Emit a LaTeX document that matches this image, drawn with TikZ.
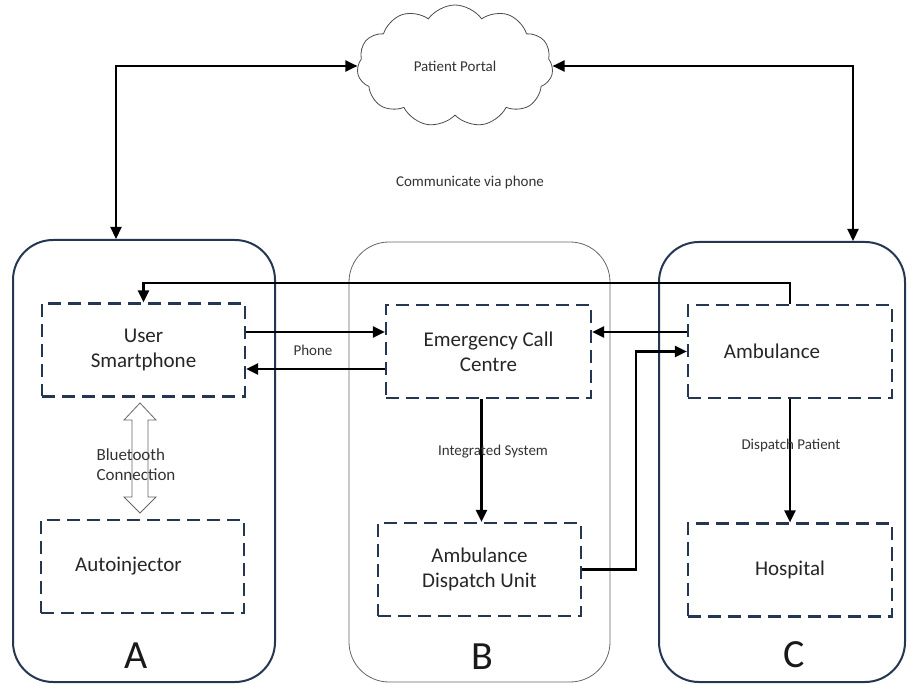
\documentclass[tikz,border=0pt]{standalone}
\usepackage{fontspec}
\setmainfont{Carlito}
\usepackage{tikz}
\usetikzlibrary{arrows.meta, shapes.symbols}
\definecolor{navy}{HTML}{243652}

\tikzset{
  panel/.style={draw=navy, line width=2pt, rounded corners=40pt, inner sep=0pt},
  boxfont/.style={font=\fontsize{21}{25}\selectfont, text=black!85},
  unitbox/.style={draw=navy, line width=2.2pt, dash pattern=on 13pt off 7pt,
    minimum width=203pt, minimum height=93pt, align=center, boxfont},
  link/.style={line width=2.2pt, ->},
  lbl/.style={font=\fontsize{15}{18}\selectfont, text=black!80},
  letter/.style={font=\fontsize{40}{40}\selectfont, text=black!90}
}

\begin{document}
\begin{tikzpicture}[x=1pt, y=-1pt, >={Triangle[length=12pt, width=11pt]}]
  \useasboundingbox (0, 0) rectangle (911, 684);
  \node[panel, minimum width=262pt, minimum height=442pt] (panelA) at (144, 461) {};
  \node[panel, draw=black!60, line width=0.8pt, minimum width=261pt, minimum height=440pt]
    (panelB) at (479.5, 462) {};
  \node[panel, minimum width=246pt, minimum height=440pt] (panelC) at (782, 462) {};
  \node[letter] (letterA) at (136, 656) {A};
  \node[letter] (letterB) at (482, 657) {B};
  \node[letter] (letterC) at (794, 655) {C};

  \node[cloud, cloud puffs=11, cloud puff arc=110, aspect=1.6, draw=black!70,
    line width=0.8pt, minimum width=196pt, minimum height=122pt, lbl]
    (portal) at (455, 66) {Patient Portal};
  \node[lbl] (talk) at (470, 183) {Communicate via phone};

  \node[unitbox] (phone) at (143.5, 350) {User\\Smartphone};
  \node[unitbox, label={[boxfont, xshift=-14pt]center:Autoinjector}] (injector) at (142.5, 566.5) {};
  \node[unitbox, minimum width=205pt] (callcentre) at (488.5, 351.5) {Emergency Call\\Centre};
  \node[unitbox] (dispatch) at (479.5, 569.5) {Ambulance\\Dispatch Unit};
  \node[unitbox, minimum width=204pt, label={[boxfont, xshift=-18pt]center:Ambulance}]
    (ambulance) at (790, 351.5) {};
  \node[unitbox, minimum width=204pt] (hospital) at (790, 570) {Hospital};

  \draw[link, <->] (portal.west) -| ([xshift=-28pt]panelA.north);
  \draw[link, <->] (portal.east) -| ([xshift=71pt]panelC.north);

  \draw[link] (ambulance.north) -- ++(0, -21) -| (phone.north);
  \draw[link] ([yshift=18pt]phone.east) -- ([yshift=18pt]phone.east -| callcentre.west);
  \draw[link] ([yshift=-19pt]phone.east -| callcentre.west) -- ([yshift=-19pt]phone.east);
  \node[lbl] (phonelbl) at (313, 350) {Phone};
  \draw[link] ([yshift=19.5pt]ambulance.west) -- ([yshift=19.5pt]ambulance.west -| callcentre.east);
  \draw[link] (dispatch.east) -- ++(54, 0) |- (ambulance.west);
  \draw[link] ([xshift=2pt]dispatch.north |- callcentre.south) -- ([xshift=2pt]dispatch.north);
  \node[lbl] (integrated) at (493, 452) {Integrated System};
  \draw[link] (ambulance.south) -- (hospital.north);
  \node[lbl] (patientlbl) at (791, 446) {Dispatch Patient};

  \draw[black!60, line width=0.8pt] (140, 403) -- (156, 420) -- (148, 420) -- (148, 497)
    -- (156, 497) -- (140, 513) -- (124, 497) -- (132, 497) -- (132, 420) -- (124, 420) -- cycle;
  \node[lbl, font=\fontsize{17}{20}\selectfont, anchor=west, align=left] (bluetooth)
    at (93, 465) {Bluetooth\\Connection};
\end{tikzpicture}
\end{document}
